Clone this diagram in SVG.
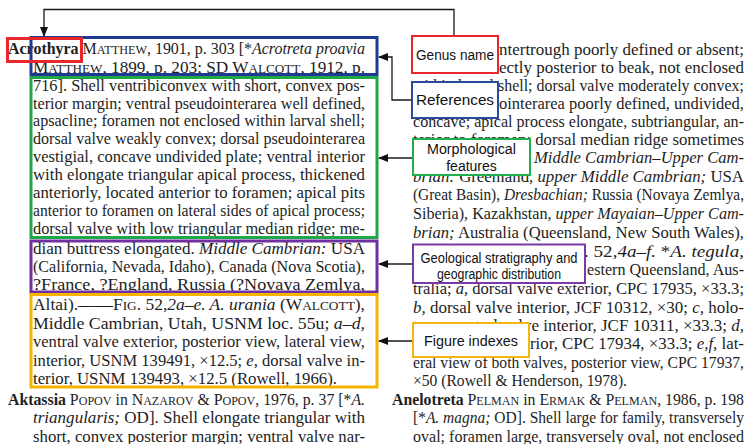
<svg xmlns="http://www.w3.org/2000/svg" width="746" height="444" viewBox="0 0 746 444">
<defs>
<style>
.t{font-family:"Liberation Serif","Times New Roman",serif;font-size:17px;fill:#1e1e1e}
.b{font-weight:bold}
.i{font-style:italic}
.sc{font-size:13px}
.lbl{font-family:"Liberation Sans",Arial,sans-serif;font-size:14px;fill:#111;text-anchor:middle}
.hl{fill:none;stroke-width:3}
.box{fill:#fff;stroke-width:2}
.conn{fill:none;stroke:#1a1a1a;stroke-width:1.3}
</style>
<marker id="arr" markerUnits="userSpaceOnUse" markerWidth="10" markerHeight="8" refX="9" refY="4" orient="auto">
<path d="M0,0 L10,4 L0,8 z" fill="#111"/>
</marker>
</defs>
<rect width="746" height="444" fill="#fff"/>

<g id="left-column">
<text class="t" x="8" y="54" textLength="357" lengthAdjust="spacingAndGlyphs"><tspan class="b">Acrothyra</tspan> M<tspan class="sc">ATTHEW</tspan>, 1901, p. 303 [*<tspan class="i">Acrotreta proavia</tspan></text>
<text class="t" x="33" y="73" textLength="332" lengthAdjust="spacingAndGlyphs">M<tspan class="sc">ATTHEW</tspan>, 1899, p. 203; SD W<tspan class="sc">ALCOTT</tspan>, 1912, p.</text>
<text class="t" x="33" y="91" textLength="332" lengthAdjust="spacingAndGlyphs">716]. Shell ventribiconvex with short, convex pos-</text>
<text class="t" x="33" y="109" textLength="332" lengthAdjust="spacingAndGlyphs">terior margin; ventral pseudointerarea well defined,</text>
<text class="t" x="33" y="126" textLength="332" lengthAdjust="spacingAndGlyphs">apsacline; foramen not enclosed within larval shell;</text>
<text class="t" x="33" y="144" textLength="332" lengthAdjust="spacingAndGlyphs">dorsal valve weakly convex; dorsal pseudointerarea</text>
<text class="t" x="33" y="162" textLength="332" lengthAdjust="spacingAndGlyphs">vestigial, concave undivided plate; ventral interior</text>
<text class="t" x="33" y="180" textLength="332" lengthAdjust="spacingAndGlyphs">with elongate triangular apical process, thickened</text>
<text class="t" x="33" y="198" textLength="332" lengthAdjust="spacingAndGlyphs">anteriorly, located anterior to foramen; apical pits</text>
<text class="t" x="33" y="216" textLength="332" lengthAdjust="spacingAndGlyphs">anterior to foramen on lateral sides of apical process;</text>
<text class="t" x="33" y="234" textLength="332" lengthAdjust="spacingAndGlyphs">dorsal valve with low triangular median ridge; me-</text>
<text class="t" x="33" y="254" textLength="332" lengthAdjust="spacingAndGlyphs">dian buttress elongated. <tspan class="i">Middle Cambrian:</tspan> USA</text>
<text class="t" x="33" y="272" textLength="332" lengthAdjust="spacingAndGlyphs">(California, Nevada, Idaho), Canada (Nova Scotia),</text>
<text class="t" x="33" y="290" textLength="332" lengthAdjust="spacingAndGlyphs">?France, ?England, Russia (?Novaya Zemlya,</text>
<text class="t" x="33" y="310" textLength="332" lengthAdjust="spacingAndGlyphs">Altai).——F<tspan class="sc">IG</tspan>. 52,<tspan class="i">2a–e. A. urania</tspan> (W<tspan class="sc">ALCOTT</tspan>),</text>
<text class="t" x="33" y="329" textLength="332" lengthAdjust="spacingAndGlyphs">Middle Cambrian, Utah, USNM loc. 55u; <tspan class="i">a–d,</tspan></text>
<text class="t" x="33" y="347" textLength="332" lengthAdjust="spacingAndGlyphs">ventral valve exterior, posterior view, lateral view,</text>
<text class="t" x="33" y="366" textLength="332" lengthAdjust="spacingAndGlyphs">interior, USNM 139491, ×12.5; <tspan class="i">e,</tspan> dorsal valve in-</text>
<text class="t" x="33" y="384" textLength="304" lengthAdjust="spacingAndGlyphs">terior, USNM 139493, ×12.5 (Rowell, 1966).</text>
<text class="t" x="8" y="405" textLength="357" lengthAdjust="spacingAndGlyphs"><tspan class="b">Aktassia</tspan> P<tspan class="sc">OPOV</tspan> in N<tspan class="sc">AZAROV</tspan> &amp; P<tspan class="sc">OPOV</tspan>, 1976, p. 37 [*<tspan class="i">A.</tspan></text>
<text class="t" x="33" y="423" textLength="332" lengthAdjust="spacingAndGlyphs"><tspan class="i">triangularis;</tspan> OD]. Shell elongate triangular with</text>
<text class="t" x="33" y="442" textLength="332" lengthAdjust="spacingAndGlyphs">short, convex posterior margin; ventral valve nar-</text>
</g>

<g id="right-column">
<text class="t" x="499" y="55" textLength="245" lengthAdjust="spacingAndGlyphs">ntertrough poorly defined or absent;</text>
<text class="t" x="499" y="73" textLength="245" lengthAdjust="spacingAndGlyphs">ectly posterior to beak, not enclosed</text>
<text class="t" x="413" y="91" textLength="331" lengthAdjust="spacingAndGlyphs">within larval shell; dorsal valve moderately convex;</text>
<text class="t" x="499" y="109" textLength="245" lengthAdjust="spacingAndGlyphs">ointerarea poorly defined, undivided,</text>
<text class="t" x="413" y="127" textLength="331" lengthAdjust="spacingAndGlyphs">concave; apical process elongate, subtriangular, an-</text>
<text class="t" x="413" y="145" textLength="331" lengthAdjust="spacingAndGlyphs">terior to foramen; dorsal median ridge sometimes</text>
<text class="t" x="534" y="163" textLength="210" lengthAdjust="spacingAndGlyphs"><tspan class="i">Middle Cambrian–Upper Cam-</tspan></text>
<text class="t" x="413" y="182" textLength="331" lengthAdjust="spacingAndGlyphs"><tspan class="i">brian:</tspan> Greenland, <tspan class="i">upper Middle Cambrian;</tspan> USA</text>
<text class="t" x="413" y="200" textLength="331" lengthAdjust="spacingAndGlyphs">(Great Basin), <tspan class="i">Dresbachian;</tspan> Russia (Novaya Zemlya,</text>
<text class="t" x="413" y="219" textLength="331" lengthAdjust="spacingAndGlyphs">Siberia), Kazakhstan, <tspan class="i">upper Mayaian–Upper Cam-</tspan></text>
<text class="t" x="413" y="238" textLength="331" lengthAdjust="spacingAndGlyphs"><tspan class="i">brian;</tspan> Australia (Queensland, New South Wales),</text>
<text class="t" x="413" y="257" textLength="331" lengthAdjust="spacingAndGlyphs">New Zealand.——F<tspan class="sc">IG</tspan>. 52,<tspan class="i">4a–f.</tspan> *<tspan class="i">A. tegula,</tspan></text>
<text class="t" x="587" y="275" textLength="157" lengthAdjust="spacingAndGlyphs">estern Queensland, Aus-</text>
<text class="t" x="413" y="294" textLength="331" lengthAdjust="spacingAndGlyphs">tralia; <tspan class="i">a,</tspan> dorsal valve exterior, CPC 17935, ×33.3;</text>
<text class="t" x="413" y="313" textLength="331" lengthAdjust="spacingAndGlyphs"><tspan class="i">b,</tspan> dorsal valve interior, JCF 10312, ×30; <tspan class="i">c,</tspan> holo-</text>
<text class="t" x="413" y="331" textLength="331" lengthAdjust="spacingAndGlyphs">type, ventral valve interior, JCF 10311, ×33.3; <tspan class="i">d,</tspan></text>
<text class="t" x="530" y="349" textLength="214" lengthAdjust="spacingAndGlyphs">rior, CPC 17934, ×33.3; <tspan class="i">e,f,</tspan> lat-</text>
<text class="t" x="413" y="368" textLength="331" lengthAdjust="spacingAndGlyphs">eral view of both valves, posterior view, CPC 17937,</text>
<text class="t" x="413" y="386" textLength="214" lengthAdjust="spacingAndGlyphs">×50 (Rowell &amp; Henderson, 1978).</text>
<text class="t" x="392" y="405" textLength="352" lengthAdjust="spacingAndGlyphs"><tspan class="b">Anelotreta</tspan> P<tspan class="sc">ELMAN</tspan> in E<tspan class="sc">RMAK</tspan> &amp; P<tspan class="sc">ELMAN</tspan>, 1986, p. 198</text>
<text class="t" x="413" y="423" textLength="331" lengthAdjust="spacingAndGlyphs">[*<tspan class="i">A. magna;</tspan> OD]. Shell large for family, transversely</text>
<text class="t" x="413" y="442" textLength="331" lengthAdjust="spacingAndGlyphs">oval; foramen large, transversely oval, not enclosed</text>
</g>

<g id="highlights">
<g id="hl-references"><rect class="hl" x="31" y="37.5" width="346" height="37" stroke="#1f3a93"/></g>
<g id="hl-morphology"><rect class="hl" x="31" y="77.5" width="346" height="160" stroke="#1ea84a"/></g>
<g id="hl-geology"><rect class="hl" x="31" y="241" width="346" height="51" stroke="#7030a0"/></g>
<g id="hl-figures"><rect class="hl" x="31" y="294.5" width="346" height="92.5" stroke="#f5b400"/></g>
<g id="hl-genus"><rect class="hl" x="7.5" y="38.5" width="74" height="23" stroke="#e8262b"/></g>
</g>

<g id="connectors">
<path class="conn" d="M454,35 V9.5 H44 V36" marker-end="url(#arr)"/>
<path class="conn" d="M412,100 H392 V57 H379" marker-end="url(#arr)"/>
<path class="conn" d="M413,158 H379" marker-end="url(#arr)"/>
<path class="conn" d="M413,264 H379" marker-end="url(#arr)"/>
<path class="conn" d="M413,341 H379" marker-end="url(#arr)"/>
</g>

<g id="label-genus"><rect class="box" x="412" y="36" width="86" height="37" stroke="#e8262b"/><text class="lbl" x="455" y="60" textLength="78" lengthAdjust="spacingAndGlyphs">Genus name</text></g>
<g id="label-references"><rect class="box" x="412" y="82" width="86" height="36" stroke="#2a4a9e"/><text class="lbl" x="455" y="105" textLength="78" lengthAdjust="spacingAndGlyphs">References</text></g>
<g id="label-morphology"><rect class="box" x="413" y="139" width="117" height="36" stroke="#22b04c"/><text class="lbl" x="471.5" y="154" textLength="89" lengthAdjust="spacingAndGlyphs">Morphological</text><text class="lbl" x="471.5" y="171">features</text></g>
<g id="label-geology"><rect class="box" x="413" y="244.5" width="172" height="38.5" stroke="#7a3aa8"/><text class="lbl" x="499" y="263" textLength="157" lengthAdjust="spacingAndGlyphs">Geological stratigraphy and</text><text class="lbl" x="499" y="279" textLength="124" lengthAdjust="spacingAndGlyphs">geographic distribution</text></g>
<g id="label-figures"><rect class="box" x="413" y="323" width="116" height="34" stroke="#f5b50f"/><text class="lbl" x="471" y="346" textLength="94" lengthAdjust="spacingAndGlyphs">Figure indexes</text></g>
</svg>
